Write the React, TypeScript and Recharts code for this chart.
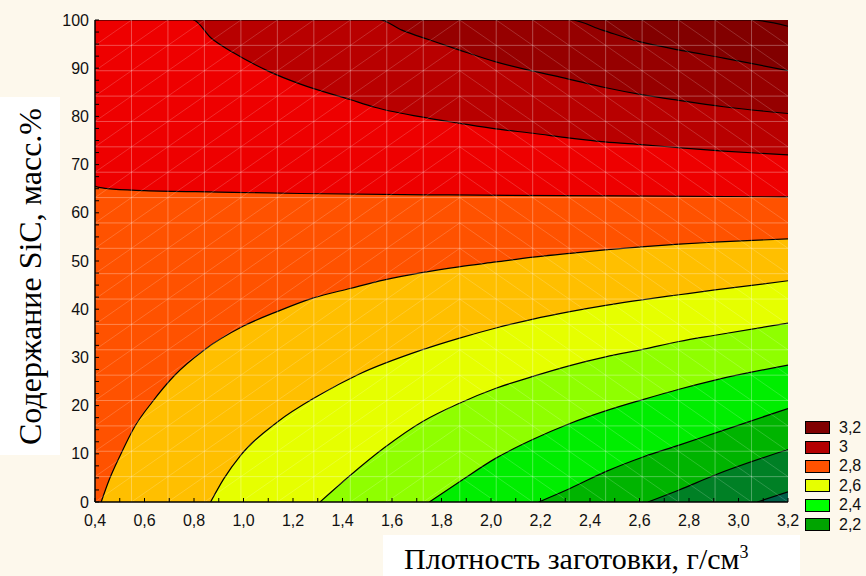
import React from "react";
import { ComposedChart, Area, XAxis, YAxis, ReferenceLine, Legend } from "recharts";

// Isolines of the response surface, [density g/cm3, SiC mass %], from the top-right corner down
const isoTop = [[0.4, 100], [3.2, 100]];
const isoA = [[0.4, 100], [3.05, 100], [3.2, 98.7]];
const isoB = [[0.4, 100], [2.32, 100], [2.45, 97.9], [2.6, 95.5], [2.78, 93.6], [2.94, 92.1], [3.2, 89.5]];
const isoC = [
  [0.4, 100], [1.55, 100], [1.64, 97.9], [1.75, 95.9], [1.87, 93.8], [2.02, 91.3], [2.17, 89.4],
  [2.31, 87.8], [2.46, 86.0], [2.62, 84.4], [2.76, 83.3], [2.94, 82.0], [3.2, 80.6],
];
const isoD = [
  [0.4, 100], [0.795, 100], [0.87, 96.2], [0.96, 93.2], [1.1, 89.4], [1.23, 86.7], [1.43, 83.5],
  [1.53, 81.9], [1.75, 79.6], [1.87, 78.6], [2.02, 77.4], [2.17, 76.5], [2.32, 75.5], [2.46, 74.7],
  [2.62, 74.1], [2.78, 73.4], [2.94, 72.8], [3.2, 72.0],
];
const isoE = [[0.4, 65.5], [0.45, 65.0], [0.6, 64.6], [0.9, 64.3], [1.23, 64.0], [1.83, 63.7], [2.5, 63.5], [3.2, 63.3]];
const isoF = [
  [0.425, 0], [0.452, 3.9], [0.506, 10.1], [0.56, 15.6], [0.632, 20.8], [0.722, 26.3], [0.84, 31.5],
  [1.0, 36.5], [1.14, 39.6], [1.28, 42.3], [1.43, 44.3], [1.57, 46.1], [1.72, 47.6], [1.87, 48.8],
  [2.02, 49.8], [2.17, 50.8], [2.32, 51.6], [2.46, 52.3], [2.62, 53.0], [2.76, 53.5], [2.9, 53.9], [3.2, 54.6],
];
const isoG = [
  [0.867, 0], [0.92, 4.8], [0.99, 9.8], [1.137, 16.6], [1.3, 22.0], [1.462, 26.4], [1.724, 31.6],
  [1.873, 34.0], [2.02, 36.1], [2.166, 37.9], [2.319, 39.5], [2.463, 40.8], [2.617, 42.0], [2.76, 43.0],
  [2.905, 44.0], [3.2, 45.9],
];
const isoH = [
  [1.309, 0], [1.426, 5.3], [1.57, 11.3], [1.724, 16.7], [1.873, 20.5], [2.02, 23.6], [2.166, 26.0],
  [2.319, 28.3], [2.463, 30.1], [2.617, 31.7], [2.76, 33.3], [2.905, 34.6], [3.2, 37.1],
];
const isoI = [
  [1.751, 0], [1.873, 4.2], [2.02, 9.1], [2.166, 12.9], [2.319, 16.3], [2.463, 18.9], [2.617, 21.3],
  [2.76, 23.4], [2.905, 25.3], [3.2, 28.4],
];
const isoJ = [[2.193, 0], [2.319, 2.8], [2.463, 6.3], [2.617, 9.4], [2.76, 11.8], [2.905, 14.3], [3.2, 19.4]];
const isoK = [[2.634, 0], [2.76, 2.5], [2.905, 5.6], [3.2, 10.9]];
const isoL = [[3.076, 0], [3.2, 2.1]];

const isoLines = [isoTop, isoA, isoB, isoC, isoD, isoE, isoF, isoG, isoH, isoI, isoJ, isoK, isoL];
// fill below each isoline (painted in order, each one over the previous)
const bandColors = [
  "#740000", "#820000", "#960000", "#b80000", "#ee0000", "#ff5200", "#ffbf00",
  "#e6ff00", "#8fff00", "#00ee00", "#00b400", "#008025", "#006048",
];

const legendLevels = ["3,2", "3", "2,8", "2,6", "2,4", "2,2"];
const legendColors = ["#800000", "#b40000", "#ff5200", "#e6ff00", "#00ff00", "#00a400"];

const xTicks = [0.4, 0.5, 0.6, 0.7, 0.8, 0.9, 1.0, 1.1, 1.2, 1.3, 1.4, 1.5, 1.6, 1.7, 1.8, 1.9, 2.0,
  2.1, 2.2, 2.3, 2.4, 2.5, 2.6, 2.7, 2.8, 2.9, 3.0, 3.1, 3.2];
const yTicks = [0, 2.5, 5, 7.5, 10, 12.5, 15, 17.5, 20, 22.5, 25, 27.5, 30, 32.5, 35, 37.5, 40, 42.5,
  45, 47.5, 50, 52.5, 55, 57.5, 60, 62.5, 65, 67.5, 70, 72.5, 75, 77.5, 80, 82.5, 85, 87.5, 90, 92.5,
  95, 97.5, 100];

// triangulation mesh of the fitted surface
const MESH = 19;
const meshX = Array.from({ length: MESH + 1 }, (_, i) => 0.4 + (2.8 * i) / MESH);
const meshY = Array.from({ length: MESH + 1 }, (_, i) => (100 * i) / MESH);
const meshDiag: { x: number; y: number }[][] = [];
for (let i = 0; i < MESH; i++) {
  for (let j = 0; j < MESH; j++) {
    if (i < 10) {
      meshDiag.push([{ x: meshX[i], y: meshY[j] }, { x: meshX[i + 1], y: meshY[j + 1] }]);
    } else {
      meshDiag.push([{ x: meshX[i], y: meshY[j + 1] }, { x: meshX[i + 1], y: meshY[j] }]);
    }
  }
}

const toPoints = (line: number[][]) => line.map(([x, y]) => ({ x, y }));

const sans = "'Liberation Sans', Arial, sans-serif";
const serif = "'Liberation Serif', 'Times New Roman', serif";
const tickStyle = { fill: "#111", fontSize: 16, fontFamily: sans };
const frame = { stroke: "#000", strokeWidth: 1.5 };

const fmtX = (v: number) => (Math.round(v * 10) % 2 === 0 ? v.toFixed(1).replace(".", ",") : "");
const fmtY = (v: number) => (v % 10 === 0 ? String(v) : "");
const blank = () => "";

const LevelLegend = () => (
  <div style={{ fontFamily: sans, fontSize: 16, color: "#111" }}>
    {legendLevels.map((lv, i) => (
      <div key={lv} style={{ display: "flex", alignItems: "center", height: 19.4 }}>
        <div
          style={{
            width: 23,
            height: 11,
            background: legendColors[i],
            border: "1.5px solid #000",
            marginRight: 9,
          }}
        />
        <span>{lv}</span>
      </div>
    ))}
  </div>
);

export default function App() {
  return (
    <div
      style={{
        position: "absolute",
        left: 0,
        top: 0,
        width: 866,
        height: 576,
        background: "#fdf8ec",
        overflow: "hidden",
      }}
    >
      <ComposedChart width={866} height={576} margin={{ top: 20, right: 78, bottom: 44, left: 35 }}>
        {isoLines.map((line, i) => (
          <Area
            key={`iso-${i}`}
            xAxisId="b"
            yAxisId="l"
            data={toPoints(line)}
            dataKey="y"
            type="monotone"
            baseValue={0}
            fill={bandColors[i]}
            fillOpacity={1}
            stroke={i === 0 ? "none" : "#000"}
            strokeWidth={1.2}
            dot={false}
            activeDot={false}
            isAnimationActive={false}
          />
        ))}
        {meshX.slice(1, MESH).map((x) => (
          <ReferenceLine key={`mx-${x}`} xAxisId="b" yAxisId="l" x={x} stroke="rgba(255,255,255,0.3)" strokeWidth={1} />
        ))}
        {meshY.slice(1, MESH).map((y) => (
          <ReferenceLine key={`my-${y}`} xAxisId="b" yAxisId="l" y={y} stroke="rgba(255,255,255,0.3)" strokeWidth={1} />
        ))}
        {meshDiag.map((seg, k) => (
          <ReferenceLine
            key={`md-${k}`}
            xAxisId="b"
            yAxisId="l"
            segment={seg}
            stroke="rgba(255,255,255,0.22)"
            strokeWidth={0.8}
            ifOverflow="visible"
          />
        ))}
        <XAxis
          xAxisId="b"
          type="number"
          dataKey="x"
          domain={[0.4, 3.2]}
          allowDataOverflow
          ticks={xTicks}
          interval={0}
          tickFormatter={fmtX}
          tickSize={-4}
          tickMargin={17}
          height={30}
          axisLine={frame}
          tickLine={{ stroke: "#000" }}
          tick={tickStyle}
        />
        <XAxis
          xAxisId="t"
          orientation="top"
          type="number"
          domain={[0.4, 3.2]}
          allowDataOverflow
          ticks={xTicks}
          interval={0}
          tickFormatter={blank}
          tickSize={-4}
          height={0}
          axisLine={frame}
          tickLine={{ stroke: "#000" }}
        />
        <YAxis
          yAxisId="l"
          type="number"
          domain={[0, 100]}
          allowDataOverflow
          ticks={yTicks}
          interval={0}
          tickFormatter={fmtY}
          tickSize={-4}
          tickMargin={10}
          width={60}
          axisLine={frame}
          tickLine={{ stroke: "#000" }}
          tick={tickStyle}
        />
        <YAxis
          yAxisId="r"
          orientation="right"
          type="number"
          domain={[0, 100]}
          allowDataOverflow
          ticks={yTicks}
          interval={0}
          tickFormatter={blank}
          tickSize={-4}
          width={0}
          axisLine={frame}
          tickLine={{ stroke: "#000" }}
        />
        <Legend
          layout="vertical"
          align="center"
          verticalAlign="middle"
          content={<LevelLegend />}
          wrapperStyle={{ left: 805, top: 418, width: 61 }}
        />
      </ComposedChart>

      <div
        style={{
          position: "absolute",
          left: 0,
          top: 97,
          width: 60,
          height: 358,
          background: "#fff",
          display: "flex",
          alignItems: "center",
          justifyContent: "center",
        }}
      >
        <div
          style={{
            transform: "rotate(-90deg)",
            whiteSpace: "nowrap",
            fontFamily: serif,
            fontSize: 32,
            color: "#000",
          }}
        >
          Содержание SiC, масс.%
        </div>
      </div>

      <div
        style={{
          position: "absolute",
          left: 383,
          top: 535,
          width: 417,
          height: 41,
          background: "#fff",
        }}
      >
        <div
          style={{
            position: "absolute",
            left: 21,
            bottom: 2,
            whiteSpace: "nowrap",
            fontFamily: serif,
            fontSize: 30,
            color: "#000",
            lineHeight: 1,
          }}
        >
          Плотность заготовки, г/см<sup style={{ fontSize: 18, lineHeight: 0 }}>3</sup>
        </div>
      </div>
    </div>
  );
}
